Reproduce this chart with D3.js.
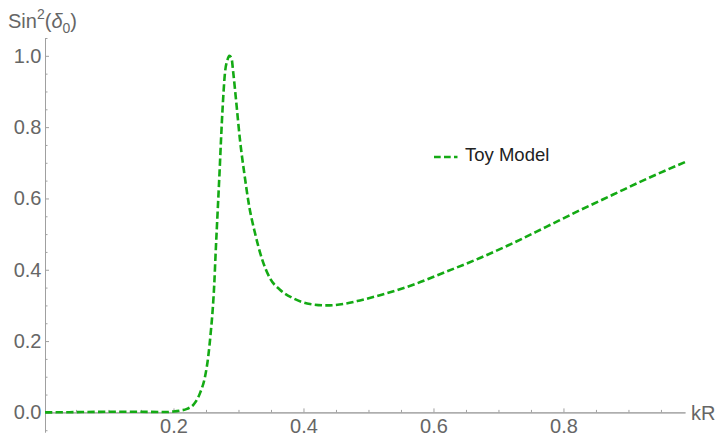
<!DOCTYPE html>
<html>
<head>
<meta charset="utf-8">
<script src="https://cdn.jsdelivr.net/npm/d3@7"></script>
<style>
  html, body { margin: 0; padding: 0; background: #fff; }
  svg { display: block; }
  text { font-family: "Liberation Sans", Arial, sans-serif; }
</style>
</head>
<body>
<svg id="chart" width="719" height="436"></svg>
<script>
// s-wave phase shift of the toy model: sin^2(delta_0) against kR
const kR = [0.0023, 0.04, 0.08, 0.12, 0.16, 0.19, 0.20, 0.21, 0.2208, 0.2305, 0.2408,
  0.2485, 0.2535, 0.2572, 0.2603, 0.2628, 0.2646, 0.2683, 0.2708, 0.2731, 0.2757,
  0.2792, 0.2831, 0.2858, 0.2892, 0.2920, 0.2972, 0.3023, 0.3089, 0.3166, 0.3254,
  0.3357, 0.3485, 0.3638, 0.3843, 0.4100, 0.4357, 0.4612, 0.4869, 0.5203, 0.5689,
  0.6203, 0.6715, 0.7228, 0.7742, 0.8254, 0.8766, 0.9280, 0.9870];
const sin2 = [0.0, 0.0005, 0.0015, 0.002, 0.0015, 0.001, 0.0025, 0.005, 0.0098, 0.021, 0.054,
  0.100, 0.157, 0.222, 0.288, 0.362, 0.437, 0.577, 0.671, 0.764, 0.858,
  0.952, 0.989, 1.000, 0.994, 0.952, 0.858, 0.764, 0.671, 0.577, 0.503,
  0.433, 0.376, 0.344, 0.320, 0.304, 0.300, 0.304, 0.314, 0.330, 0.358,
  0.395, 0.433, 0.475, 0.521, 0.567, 0.611, 0.655, 0.702];

const xMajor = [0.2, 0.4, 0.6, 0.8];
const xMinor = [0.05, 0.1, 0.15, 0.25, 0.3, 0.35, 0.45, 0.5, 0.55, 0.65, 0.7, 0.75, 0.85, 0.9, 0.95];
const yMajor = [0.0, 0.2, 0.4, 0.6, 0.8, 1.0];
const yMinor = [-0.05, 0.05, 0.1, 0.15, 0.25, 0.3, 0.35, 0.45, 0.5, 0.55, 0.65, 0.7, 0.75, 0.85, 0.9, 0.95, 1.05];
const seriesName = "Toy Model";
const xLabel = "kR";

const axisColor = "#a0a0a0";
const labelColor = "#666666";
const lineColor = "#14aa14";
const dash = "7.3 3.3";

const svg = d3.select("#chart");

const x = d3.scaleLinear().domain([0.0023, 0.987]).range([45, 685]);
const y = d3.scaleLinear().domain([-0.055, 1.05]).range([432, 38]);

function styleAxis(g) {
  g.select(".domain").attr("stroke", axisColor).attr("stroke-width", 1);
  g.selectAll(".tick line").attr("stroke", axisColor);
  g.selectAll(".tick text").attr("fill", labelColor).style("font-size", "20px")
    .style("font-family", "'Liberation Sans', Arial, sans-serif");
}

// x axis sits on y = 0, ticks point into the plot
svg.append("g")
  .attr("transform", `translate(0,${y(0)})`)
  .call(d3.axisBottom(x).tickValues(xMinor).tickSize(-2.5).tickSizeOuter(0).tickFormat(""))
  .call(styleAxis);
svg.append("g")
  .attr("transform", `translate(0,${y(0)})`)
  .call(d3.axisBottom(x).tickValues(xMajor).tickSize(-4).tickSizeOuter(0).tickPadding(6.5)
    .tickFormat(d3.format(".1f")))
  .call(styleAxis);

// y axis at the left edge of the range
svg.append("g")
  .attr("transform", `translate(${x.range()[0]},0)`)
  .call(d3.axisLeft(y).tickValues(yMinor).tickSize(-2.5).tickSizeOuter(0).tickFormat(""))
  .call(styleAxis);
svg.append("g")
  .attr("transform", `translate(${x.range()[0]},0)`)
  .call(d3.axisLeft(y).tickValues(yMajor).tickSize(-4).tickSizeOuter(0).tickPadding(3.5)
    .tickFormat(d3.format(".1f")))
  .call(styleAxis);

// axis labels
svg.append("text")
  .attr("x", x.range()[1] + 6).attr("y", y(0) + 8)
  .attr("fill", labelColor).style("font-size", "20px")
  .text(xLabel);

const yl = svg.append("text")
  .attr("x", 8).attr("y", 28)
  .attr("fill", labelColor).style("font-size", "20px");
yl.append("tspan").text("Sin");
yl.append("tspan").attr("dy", -9).style("font-size", "14px").text("2");
yl.append("tspan").attr("dy", 9).text("(");
yl.append("tspan").style("font-style", "italic").text("δ");
yl.append("tspan").attr("dy", 5).style("font-size", "14px").text("0");
yl.append("tspan").attr("dy", -5).text(")");

// curve
const pts = kR.map((k, i) => [k, sin2[i]]);
const line = d3.line().x(d => x(d[0])).y(d => y(d[1])).curve(d3.curveMonotoneX);
svg.append("path")
  .datum(pts)
  .attr("d", line)
  .attr("fill", "none")
  .attr("stroke", lineColor)
  .attr("stroke-width", 2.6)
  .attr("stroke-dasharray", dash);

// legend
const lg = svg.append("g").attr("transform", "translate(434,157)");
lg.append("line")
  .attr("x1", 0).attr("x2", 23.5).attr("y1", 0).attr("y2", 0)
  .attr("stroke", lineColor).attr("stroke-width", 2.6)
  .attr("stroke-dasharray", "6.7 3.3");
lg.append("text")
  .attr("x", 31).attr("y", 4)
  .attr("fill", "#222").style("font-size", "18.5px")
  .text(seriesName);
</script>
</body>
</html>
